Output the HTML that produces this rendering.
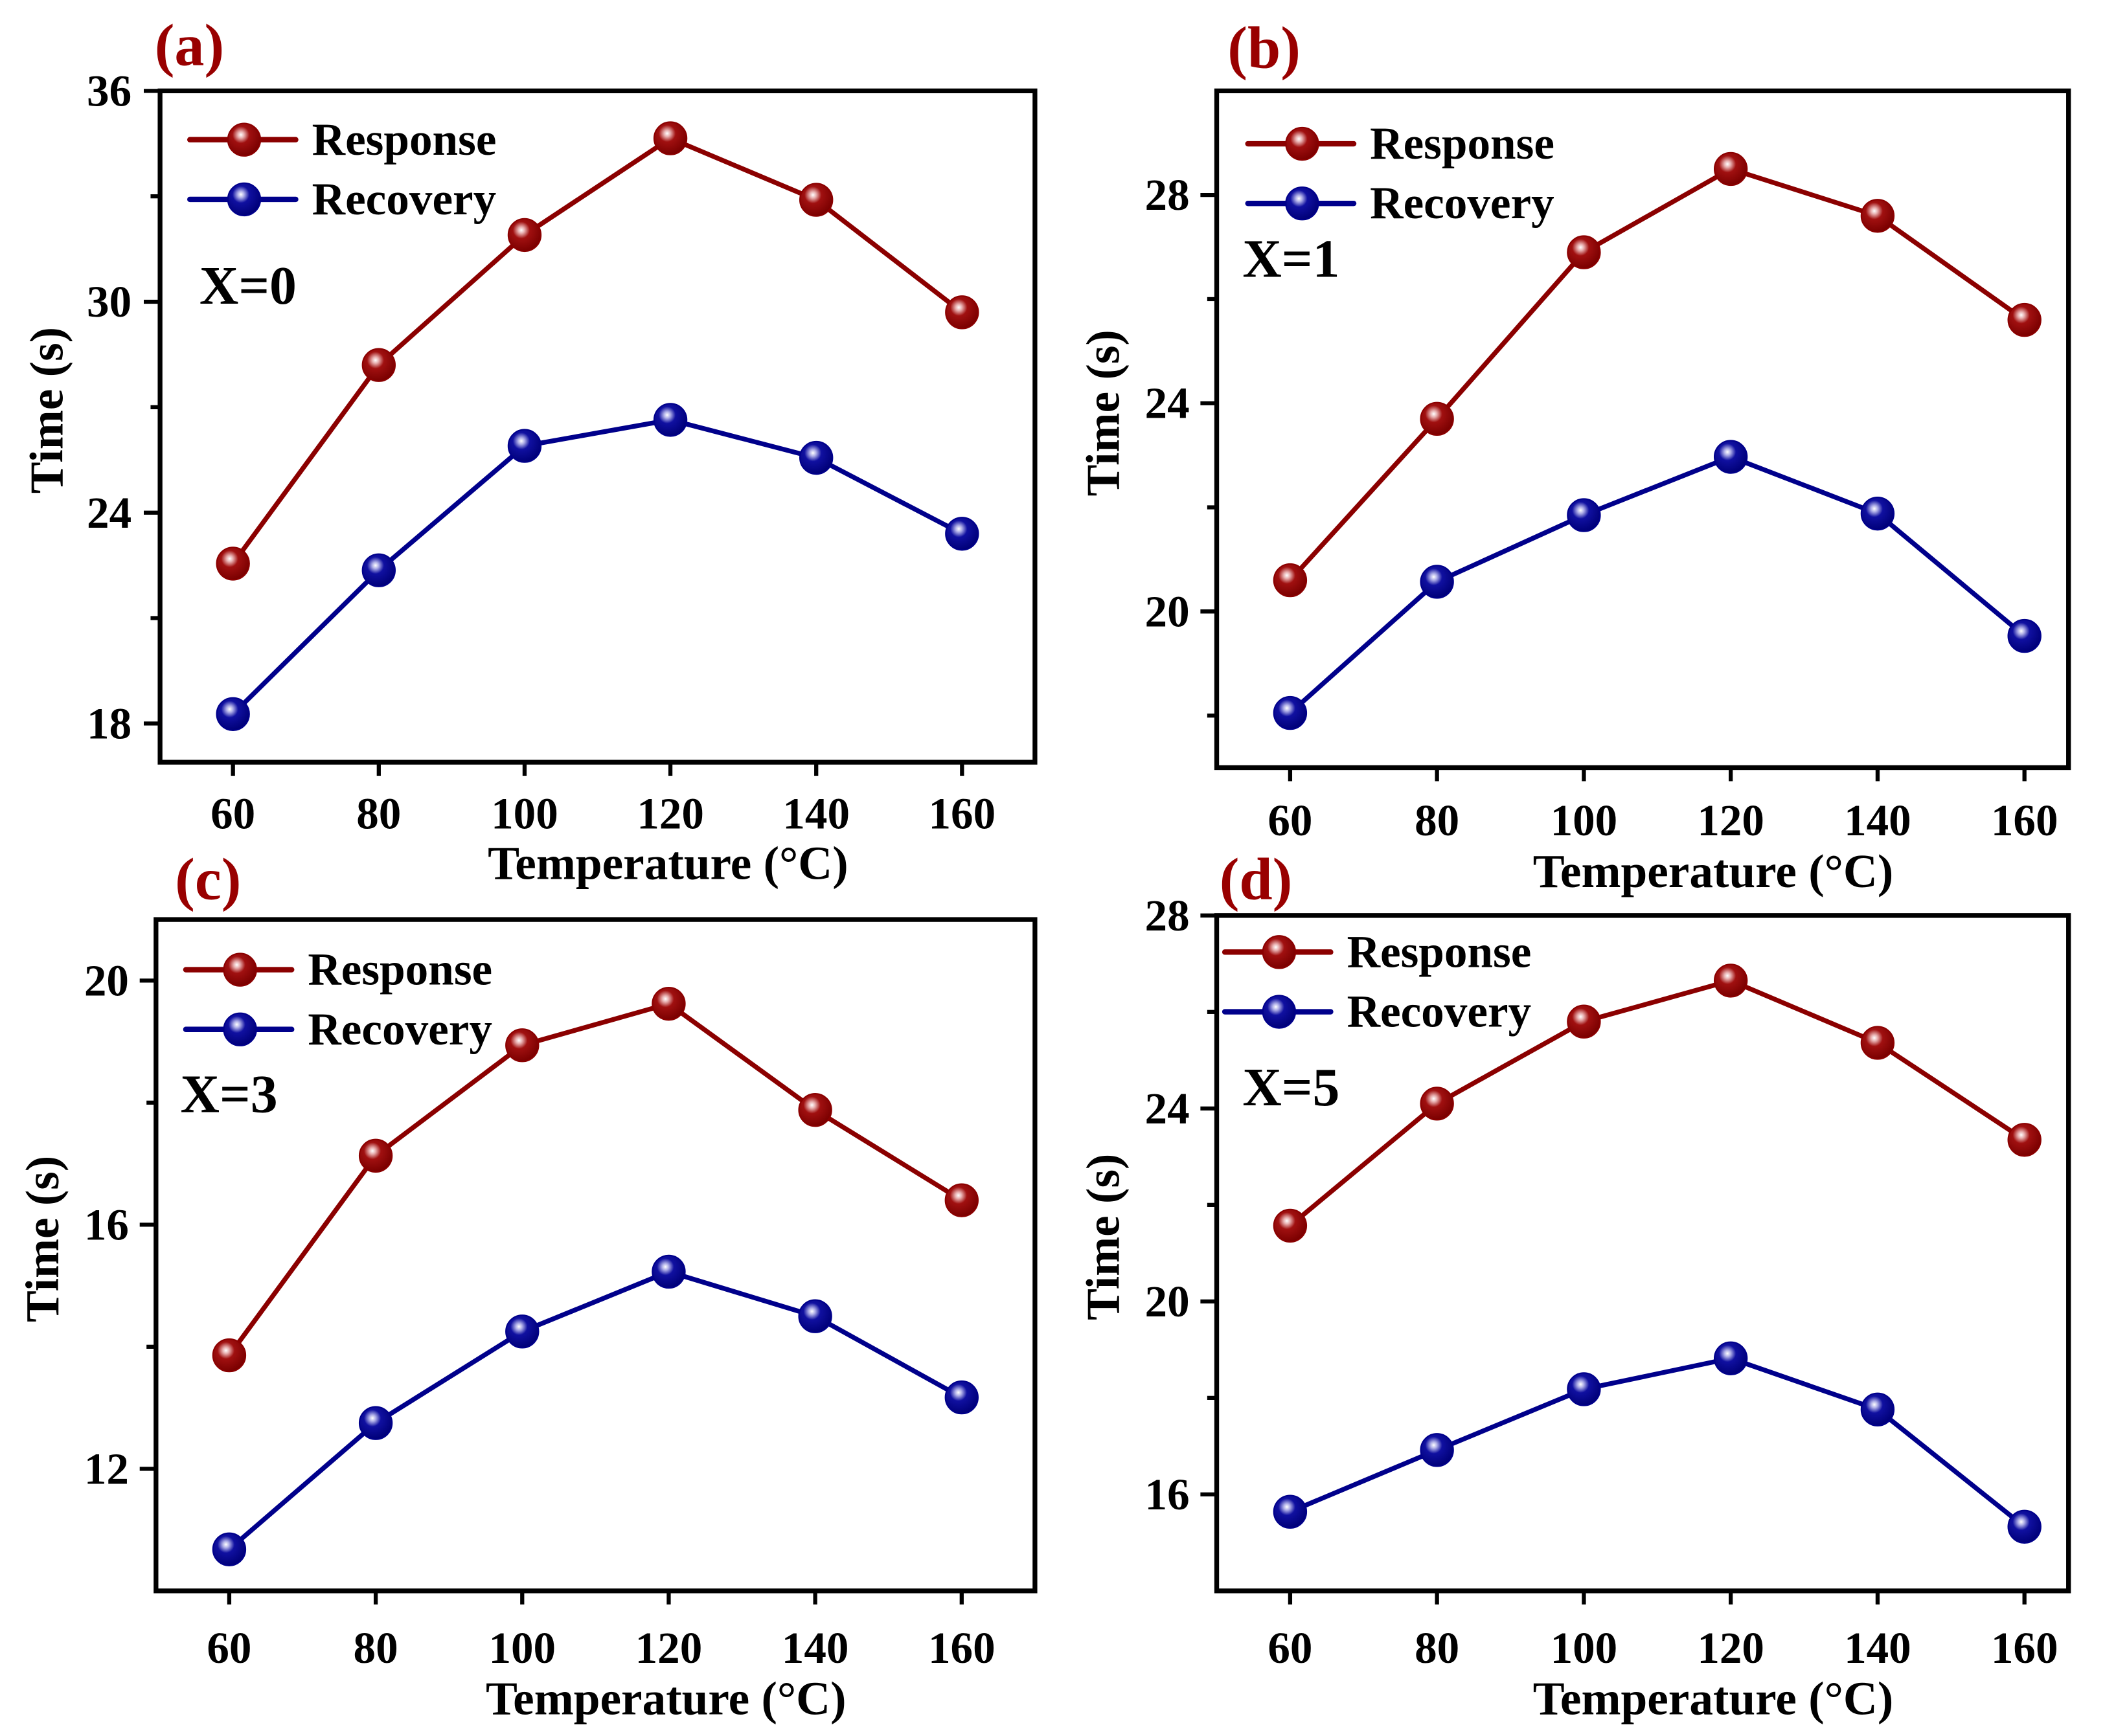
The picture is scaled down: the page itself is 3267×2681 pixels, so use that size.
<!DOCTYPE html>
<html><head><meta charset="utf-8"><style>
html,body{margin:0;padding:0;background:#fff;}
svg{display:block;}
text{font-family:"Liberation Serif","Times New Roman",serif;font-weight:bold;}
</style></head><body>
<svg id="fig" xmlns="http://www.w3.org/2000/svg" width="3267" height="2681" viewBox="0 0 1560 1280" preserveAspectRatio="none">
<defs>
<radialGradient id="gr" cx="0.4" cy="0.35" r="0.65"><stop offset="0" stop-color="#fff"/><stop offset="0.15" stop-color="#e8b0b0"/><stop offset="0.4" stop-color="#a01010"/><stop offset="1" stop-color="#7a0000"/></radialGradient>
<radialGradient id="gb" cx="0.4" cy="0.35" r="0.65"><stop offset="0" stop-color="#fff"/><stop offset="0.15" stop-color="#b0b0e8"/><stop offset="0.4" stop-color="#1010a0"/><stop offset="1" stop-color="#000078"/></radialGradient>
</defs>
</svg>
<script>
const temps = [60, 80, 100, 120, 140, 160];
const respA = [22.55, 28.2, 31.9, 34.65, 32.9, 29.7];
const recA = [18.27, 22.36, 25.9, 26.64, 25.56, 23.4];
const respB = [20.6, 23.7, 26.9, 28.5, 27.6, 25.6];
const recB = [18.05, 20.57, 21.85, 22.97, 21.88, 19.53];
const respC = [13.86, 17.13, 18.94, 19.62, 17.88, 16.4];
const recC = [10.68, 12.75, 14.25, 15.23, 14.5, 13.17];
const respD = [21.57, 24.1, 25.8, 26.65, 25.36, 23.35];
const recD = [15.64, 16.92, 18.18, 18.82, 17.76, 15.33];
const ticksA = [18, 24, 30, 36];
const ticksB = [20, 24, 28];
const ticksC = [12, 16, 20];
const ticksD = [16, 20, 24, 28];
const labels = ['(a)', '(b)', '(c)', '(d)'];
const xNames = ['X=0', 'X=1', 'X=3', 'X=5'];

const NS = 'http://www.w3.org/2000/svg';
const svg = document.getElementById('fig');
function mk(tag, attrs, parent, txt){
  const e = document.createElementNS(NS, tag);
  for (const k in attrs) e.setAttribute(k, attrs[k]);
  if (txt !== undefined) e.textContent = txt;
  (parent || svg).appendChild(e);
  return e;
}
const panels = [
  {L:118,T:67,R:763,B:562,x0:50,x1:170,y0:16.9,y1:36,ticks:ticksA,minor:3,resp:respA,rec:recA,lab:[114,48],xl:[147,224],leg:[140,103],xtY:611,atY:648,ylx:97},
  {L:897,T:67,R:1525,B:566,x0:50,x1:166,y0:17,y1:30,ticks:ticksB,minor:2,resp:respB,rec:recB,lab:[905,50],xl:[916,204],leg:[920,106],xtY:616,atY:654,ylx:877},
  {L:115,T:678,R:763,B:1173,x0:50,x1:170,y0:10,y1:21,ticks:ticksC,minor:2,resp:respC,rec:recC,lab:[129,663],xl:[133,820],leg:[137,715],xtY:1226,atY:1264,ylx:95},
  {L:897,T:675,R:1525,B:1173,x0:50,x1:166,y0:14,y1:28,ticks:ticksD,minor:2,resp:respD,rec:recD,lab:[899,663],xl:[916,815],leg:[903,702],xtY:1226,atY:1264,ylx:877}
];
panels.forEach((p, i) => {
  const g = mk('g', {});
  
  
  const sx = v => p.L + (v - p.x0) / (p.x1 - p.x0) * (p.R - p.L);
  const sy = v => p.B - (v - p.y0) / (p.y1 - p.y0) * (p.B - p.T);
  const fr = mk('rect', {x:p.L, y:p.T, width:p.R-p.L, height:p.B-p.T, fill:'none', stroke:'#000', 'stroke-width':3.5}, g);
  
  
  p.ticks.forEach(t => {
    const y = sy(t);
    mk('line', {x1:p.L-12, x2:p.L, y1:y, y2:y, stroke:'#000', 'stroke-width':3}, g);
    const tl = mk('text', {x:p.ylx, y:y+11, 'font-size':33, 'text-anchor':'end'}, g, String(t));
    
    
    const m = t + p.minor;
    if (m < p.y1 - 0.01) { const ym = sy(m); mk('line', {x1:p.L-7, x2:p.L, y1:ym, y2:ym, stroke:'#000', 'stroke-width':3}, g); }
    const m2 = t - p.minor;
    if (t === p.ticks[0] && m2 > p.y0) { const ym = sy(m2); mk('line', {x1:p.L-7, x2:p.L, y1:ym, y2:ym, stroke:'#000', 'stroke-width':3}, g); }
  });
  temps.forEach(t => {
    const x = sx(t);
    mk('line', {x1:x, x2:x, y1:p.B, y2:p.B+10, stroke:'#000', 'stroke-width':3}, g);
    const tl = mk('text', {x:x, y:p.xtY, 'font-size':33, 'text-anchor':'middle'}, g, String(t));
    
    
  });
  const xt = mk('text', {x:(p.L+p.R)/2+52, y:p.atY, 'font-size':35, 'text-anchor':'middle'}, g, 'Temperature (°C)');
  
  
  const cy = (p.T+p.B)/2 - 12;
  const yt = mk('text', {x:0, y:0, 'font-size':35, 'text-anchor':'middle', transform:'translate('+(p.L-72)+','+cy+') rotate(-90)'}, g, 'Time (s)');
  
  
  const pl = mk('text', {x:p.lab[0], y:p.lab[1], 'font-size':44, fill:'#990000'}, g, labels[i]);
  
  
  const xn = mk('text', {x:p.xl[0], y:p.xl[1], 'font-size':40}, g, xNames[i]);
  
  
  [[p.resp,'#8b0000','url(#gr)','Response'],[p.rec,'#00008b','url(#gb)','Recovery']].forEach((s, k) => {
    const pts = temps.map((t, j) => sx(t) + ',' + sy(s[0][j])).join(' ');
    const ln = mk('polyline', {points:pts, fill:'none', stroke:s[1], 'stroke-width':3.5}, g);
    
    
    temps.forEach((t, j) => {
      const c = mk('circle', {cx:sx(t), cy:sy(s[0][j]), r:12, fill:s[2], stroke:s[1], 'stroke-width':1}, g);
      
      
    });
    const ly = p.leg[1] + k*44;
    const lg = mk('g', {}, g);
    
    
    mk('line', {x1:p.leg[0], x2:p.leg[0]+78, y1:ly, y2:ly, stroke:s[1], 'stroke-width':4, 'stroke-linecap':'round'}, lg);
    mk('circle', {cx:p.leg[0]+40, cy:ly, r:12, fill:s[2], stroke:s[1], 'stroke-width':1}, lg);
    mk('text', {x:p.leg[0]+90, y:ly+11, 'font-size':34}, lg, s[3]);
  });
});
</script>
</body></html>
